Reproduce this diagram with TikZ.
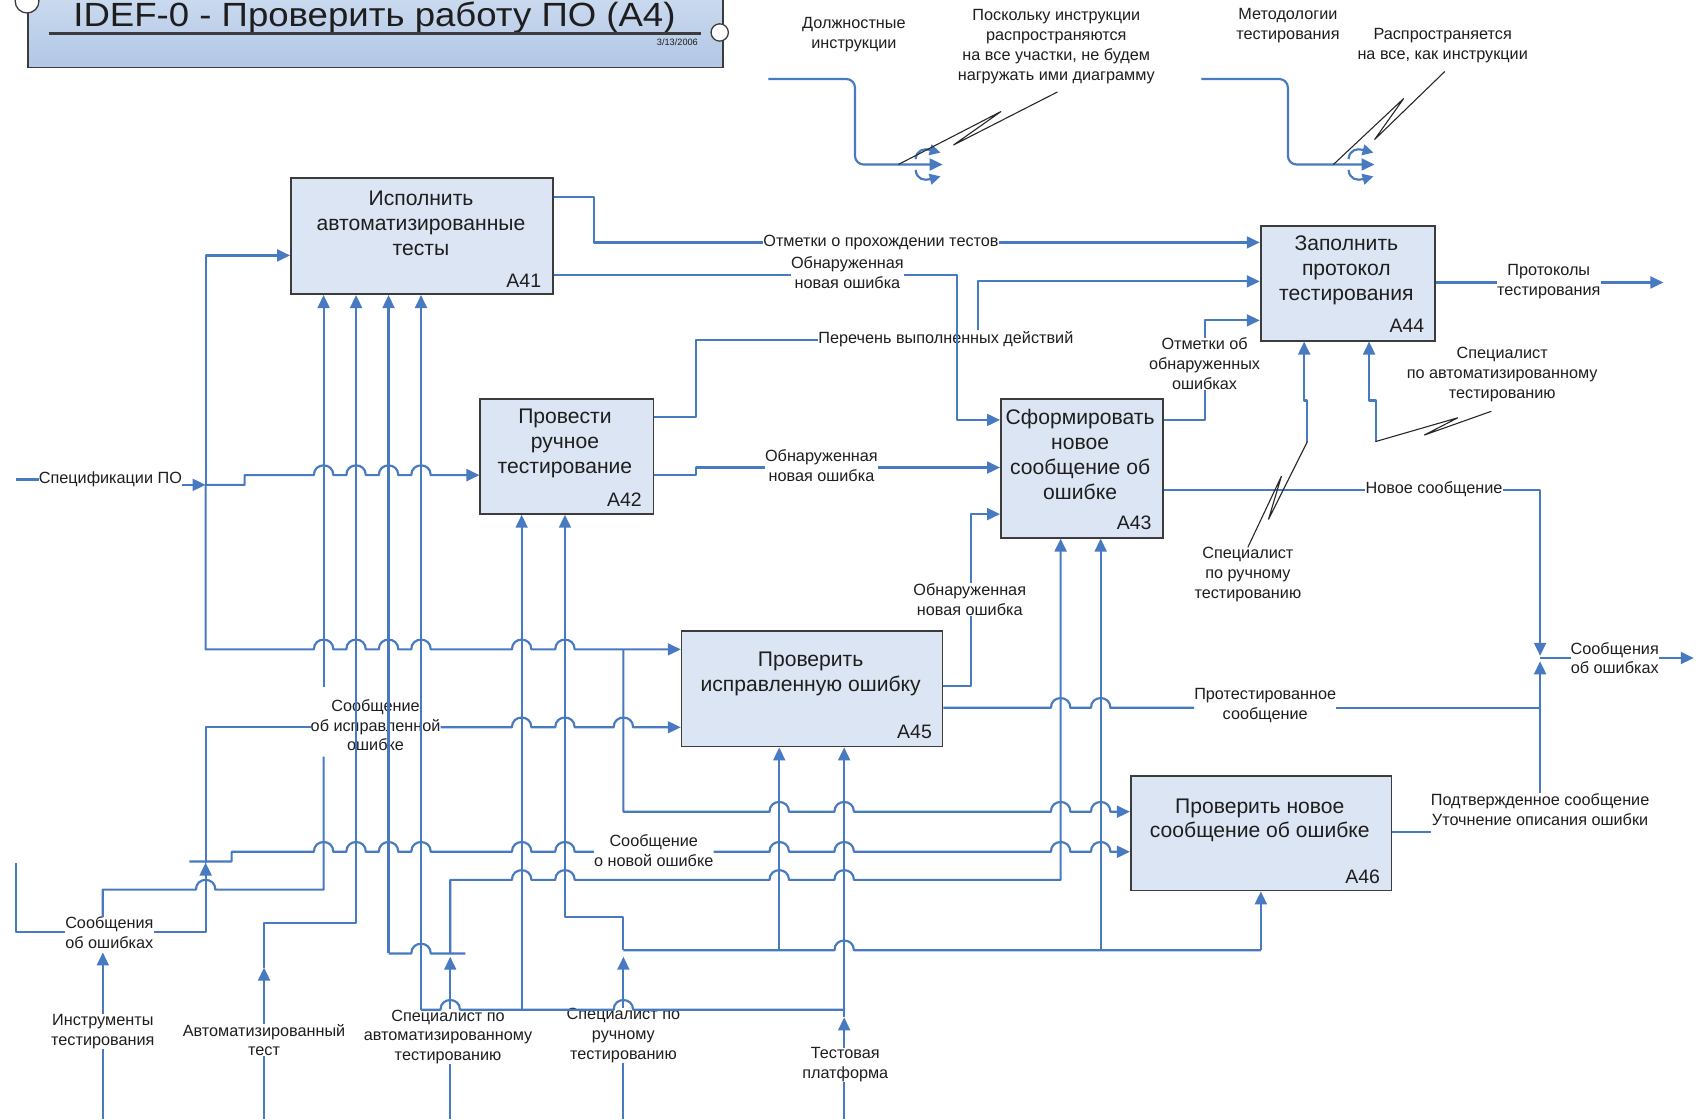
\documentclass[tikz,border=0pt]{standalone}
\usepackage{fontspec}
\setmainfont{Liberation Sans}
\newfontfamily\ttlfont[FakeStretch=1.09]{Liberation Sans}
\usetikzlibrary{arrows.meta}
\definecolor{flowc}{RGB}{72,122,194}
\definecolor{boxfill}{RGB}{220,229,243}
\definecolor{boxline}{RGB}{60,60,60}
\definecolor{txtc}{RGB}{30,30,30}
\definecolor{ttltop}{RGB}{208,222,241}
\definecolor{ttlbot}{RGB}{178,199,229}
\newcommand\lblfont{\fontsize{15}{18.3}\selectfont}
\newcommand\boxfont{\fontsize{19.5}{23}\selectfont}
\newcommand\idfont{\fontsize{18}{20}\selectfont}
\newcommand\hop[2]{-- ({#1-9},#2) .. controls ({#1-9},{#2-12}) and ({#1+9},{#2-12}) .. ({#1+9},#2)}
\begin{document}
\begin{tikzpicture}[x=1pt,y=-1pt,
 flow/.style={draw=flowc,line width=2pt,line join=round},
 arr/.style={flow,-{Triangle[length=12pt,width=11pt]}},
 sarr/.style={flow,-{Triangle[length=10pt,width=10pt]}},
 box/.style={draw=boxline,line width=1.6pt,fill=boxfill,inner sep=0pt,anchor=north west},
 lbl/.style={font=\lblfont,align=center,inner sep=0pt,text=txtc},
 btxt/.style={font=\boxfont,align=center,inner sep=0pt,text=txtc},
 idtxt/.style={font=\idfont,inner sep=0pt,text=txtc},
 note/.style={draw=black!85,line width=1pt}]
\clip (0,0) rectangle (1568,1034);
\fill[white] (0,0) rectangle (1568,1034);

% title block
\node[draw=boxline,line width=1.5pt,top color=ttltop,bottom color=ttlbot,minimum width=642pt,minimum height=80pt,anchor=south west,inner sep=0pt] (title) at (25,63) {};
\node[font=\ttlfont\fontsize{31}{36}\selectfont,anchor=base,text=txtc,inner sep=0pt] (ttl) at (346,24.5) {IDEF-0 - Проверить работу ПО (A4)};
\draw[draw=boxline,line width=2.2pt] (45,31) -- (648,31);
\node[font=\fontsize{8.5}{10}\selectfont,anchor=east,text=txtc,inner sep=0pt] (date) at (645,39) {3/13/2006};
\draw[boxline,fill=white,line width=1.2pt] (25,1) circle[radius=11];
\draw[boxline,fill=white,line width=1.2pt] (665,30) circle[radius=8];

% boxes
\node[box,minimum width=242pt,minimum height=107pt] (A41) at (268,164) {};
\node[box,minimum width=160pt,minimum height=106pt] (A42) at (443,368) {};
\node[box,minimum width=150pt,minimum height=128pt] (A43) at (924,368) {};
\node[box,minimum width=161pt,minimum height=106pt] (A44) at (1164,208) {};
\node[box,minimum width=241pt,minimum height=107pt] (A45) at (629,582) {};
\node[box,minimum width=241pt,minimum height=106pt] (A46) at (1044,716) {};
\node[btxt] (t41) at (389,206) {Исполнить\\автоматизированные\\тесты};
\node[btxt] (t42) at (522,410) {Провести\\ручное\\тестирование};
\node[btxt] (t43) at (998,420) {Сформировать\\новое\\сообщение об\\ошибке};
\node[btxt] (t44) at (1244,250) {Заполнить\\протокол\\тестирования};
\node[btxt] (t45) at (749,623) {Проверить\\исправленную ошибку};
\node[btxt] (t46) at (1164,758) {Проверить новое\\сообщение об ошибке};
\node[idtxt] (i41) at (484,259) {A41};
\node[idtxt] (i42) at (577,462) {A42};
\node[idtxt] (i43) at (1048,483) {A43};
\node[idtxt] (i44) at (1300,301) {A44};
\node[idtxt] (i45) at (845,676) {A45};
\node[idtxt] (i46) at (1259,810) {A46};

% labels
\node[lbl] (spec) at (102,443) {Спецификации ПО};
\node[lbl] (tools) at (95,953) {Инструменты\\тестирования};
\node[lbl] (errL) at (101,862) {Сообщения\\об ошибках};
\node[lbl] (fixmsg) at (347,670) {Сообщение\\об исправленной\\ошибке};
\node[lbl] (atest) at (244,961) {Автоматизированный\\тест};
\node[lbl] (spa) at (414,958) {Специалист по\\автоматизированному\\тестированию};
\node[lbl] (spm) at (576,957) {Специалист по\\ручному\\тестированию};
\node[lbl] (plat) at (781,984) {Тестовая\\платформа};
\node[lbl] (newmsg) at (604,786) {Сообщение\\о новой ошибке};
\node[lbl] (mark) at (814,224) {Отметки о прохождении тестов};
\node[lbl] (nerr1) at (783,252) {Обнаруженная\\новая ошибка};
\node[lbl] (steps) at (874,313) {Перечень выполненных действий};
\node[lbl] (nerr2) at (759,430) {Обнаруженная\\новая ошибка};
\node[lbl] (marks2) at (1113,336) {Отметки об\\обнаруженных\\ошибках};
\node[lbl] (newm) at (1325,452) {Новое сообщение};
\node[lbl] (prot) at (1431,260) {Протоколы\\тестирования};
\node[lbl] (spm2) at (1153,531) {Специалист\\по ручному\\тестированию};
\node[lbl] (spa2) at (1388,346) {Специалист\\по автоматизированному\\тестированию};
\node[lbl] (nerr3) at (896,554) {Обнаруженная\\новая ошибка};
\node[lbl] (tested) at (1169,652) {Протестированное\\сообщение};
\node[lbl] (conf) at (1423,748) {Подтвержденное сообщение\\Уточнение описания ошибки};
\node[lbl] (errR) at (1492,608) {Сообщения\\об ошибках};
\node[lbl] (dolj) at (789,32) {Должностные\\инструкции};
\node[lbl] (note1) at (976,43) {Поскольку инструкции\\распространяются\\на все участки, не будем\\нагружать ими диаграмму};
\node[lbl] (metod) at (1190,24) {Методологии\\тестирования};
\node[lbl] (note2) at (1333,42) {Распространяется\\на все, как инструкции};

% specification input
\draw[flow] (15,443) -- (spec.west);
\draw[arr] (spec.east |- 0,448) -- (190,448);
\draw[arr] (190,448) -- (190,236) -- (A41.west |- 0,236);
\draw[arr] (190,448) -- (190,600) \hop{299}{600} \hop{329}{600} \hop{359}{600} \hop{389}{600} \hop{482}{600} \hop{522}{600} -- (A45.west |- 0,600);
\draw[arr] (190,448) -- (226,448) -- (226,439) \hop{299}{439} \hop{329}{439} \hop{359}{439} \hop{389}{439} -- (A42.west |- 0,439);
\draw[arr] (576,600) -- (576,750) \hop{720}{750} \hop{780}{750} \hop{980}{750} \hop{1017}{750} -- (A46.west |- 0,750);

% tools
\draw[flow] (95,1034) -- (tools.south);
\draw[arr] (tools.north) -- (95,880);
\draw[flow] (errL.north -| 95,0) -- (95,822) \hop{190}{822} -- (299,822) -- (299,699);
\draw[arr] (299,635) -- (299,0 |- A41.south);

% automated test
\draw[flow] (244,1034) -- (atest.south);
\draw[arr] (atest.north) -- (244,894);
\draw[arr] (244,894) -- (244,853) -- (329,853) -- (329,0 |- A41.south);

% automation specialist
\draw[flow] (416,1034) -- (416,0 |- spa.south);
\draw[arr] (416,0 |- spa.north) -- (416,884);
\draw[arr] (359,881) -- (359,0 |- A41.south);
\draw[flow] (359,881) \hop{389}{881} -- (430,881);
\draw[arr] (416,881) -- (416,813) \hop{482}{813} \hop{522}{813} \hop{720}{813} \hop{780}{813} -- (980,813) -- (980,0 |- A43.south);

% platform
\draw[flow] (780,1034) -- (780,0 |- plat.south);
\draw[arr] (780,0 |- plat.north) -- (780,940);
\draw[arr] (780,940) -- (780,0 |- A45.south);
\draw[flow] (389,933) \hop{416}{933} -- (482,933) \hop{576}{933} -- (780,933);
\draw[arr] (389,933) -- (389,0 |- A41.south);
\draw[arr] (482,933) -- (482,0 |- A42.south);

% manual specialist
\draw[flow] (576,1034) -- (576,0 |- spm.south);
\draw[arr] (576,0 |- spm.north) -- (576,884);
\draw[flow] (576,878) \hop{780}{878} -- (1165,878);
\draw[arr] (576,878) -- (576,847) -- (522,847) -- (522,0 |- A42.south);
\draw[arr] (720,878) -- (720,0 |- A45.south);
\draw[arr] (1017,878) -- (1017,0 |- A43.south);
\draw[arr] (1165,878) -- (1165,0 |- A46.south);

% error messages from the left
\draw[flow] (15,797) -- (15,861) -- (errL.west |- 0,861);
\draw[arr] (errL.east |- 0,861) -- (190,861) -- (190,797);
\draw[flow] (190,797) -- (190,672) -- (fixmsg.west |- 0,672);
\draw[arr] (fixmsg.east |- 0,672) \hop{482}{672} \hop{522}{672} \hop{576}{672} -- (A45.west |- 0,672);
\draw[flow] (175,796) -- (214,796) -- (214,787) \hop{299}{787} \hop{329}{787} \hop{359}{787} \hop{389}{787} \hop{482}{787} \hop{522}{787} -- (newmsg.west |- 0,787);
\draw[arr] (newmsg.east |- 0,787) \hop{720}{787} \hop{780}{787} \hop{980}{787} \hop{1017}{787} -- (A46.west |- 0,787);

% A41 outputs
\draw[flow] (A41.east |- 0,182) -- (549,182) -- (549,224) -- (mark.west);
\draw[arr] (mark.east) -- (A44.west |- 0,224);
\draw[flow] (A41.east |- 0,254) -- (nerr1.west |- 0,254);
\draw[arr] (nerr1.east |- 0,254) -- (884,254) -- (884,388) -- (A43.west |- 0,388);

% A42 outputs
\draw[flow] (A42.east |- 0,385) -- (643,385) -- (643,314) -- (steps.west |- 0,314);
\draw[arr] (904,305) -- (904,260) -- (A44.west |- 0,260);
\draw[flow] (A42.east |- 0,439) -- (643,439) -- (643,432) -- (nerr2.west |- 0,432);
\draw[arr] (nerr2.east |- 0,432) -- (A43.west |- 0,432);

% A43 outputs
\draw[flow] (A43.east |- 0,388) -- (1113,388) -- (marks2.south);
\draw[arr] (marks2.north) -- (1113,296) -- (A44.west |- 0,296);
\draw[flow] (A43.east |- 0,453) -- (newm.west |- 0,453);
\draw[arr] (newm.east |- 0,453) -- (1423,453) -- (1423,606);

% A44 output and mechanisms
\draw[flow] (A44.east |- 0,261) -- (prot.west |- 0,261);
\draw[arr] (prot.east |- 0,261) -- (1537,261);
\draw[arr] (1208,408) -- (1208,370) -- (1205,370) -- (1205,0 |- A44.south);
\draw[arr] (1271,408) -- (1271,370) -- (1265,370) -- (1265,0 |- A44.south);
\draw[note] (1208,408) -- (1172,480) -- (1184,440) -- (spm2.north);
\draw[note] (1271,408) -- (1347,386) -- (1316,402) -- (1378,380);

% A45 outputs
\draw[flow] (A45.east |- 0,634) -- (897,634) -- (897,0 |- nerr3.south);
\draw[arr] (897,0 |- nerr3.north) -- (897,475) -- (A43.west |- 0,475);
\draw[flow] (A45.east |- 0,654) \hop{980}{654} \hop{1017}{654} -- (tested.west |- 0,654);
\draw[flow] (tested.east |- 0,654) -- (1423,654);

% A46 output
\draw[flow] (A46.east |- 0,769) -- (conf.west |- 0,769);
\draw[arr] (conf.north) -- (1423,611);

% error messages out
\draw[flow] (1423,608) -- (errR.west |- 0,608);
\draw[arr] (errR.east |- 0,608) -- (1565,608);

% top: instructions
\draw[arr,rounded corners=8pt] (710,73) -- (790,73) -- (790,152) -- (871,152);
\draw[sarr] (846,147) .. controls (847,138) and (854,137) .. (869,141);
\draw[sarr] (846,157) .. controls (847,166) and (854,167) .. (869,163);
\draw[note] (830,152) -- (925,103) -- (881,134) -- (977,85);

% top: methodologies
\draw[arr,rounded corners=8pt] (1110,73) -- (1190,73) -- (1190,152) -- (1270,152);
\draw[sarr] (1246,147) .. controls (1247,138) and (1254,137) .. (1269,141);
\draw[sarr] (1246,157) .. controls (1247,166) and (1254,167) .. (1269,163);
\draw[note] (1232,152) -- (1297,91) -- (1270,129) -- (1335,66);
\end{tikzpicture}
\end{document}
